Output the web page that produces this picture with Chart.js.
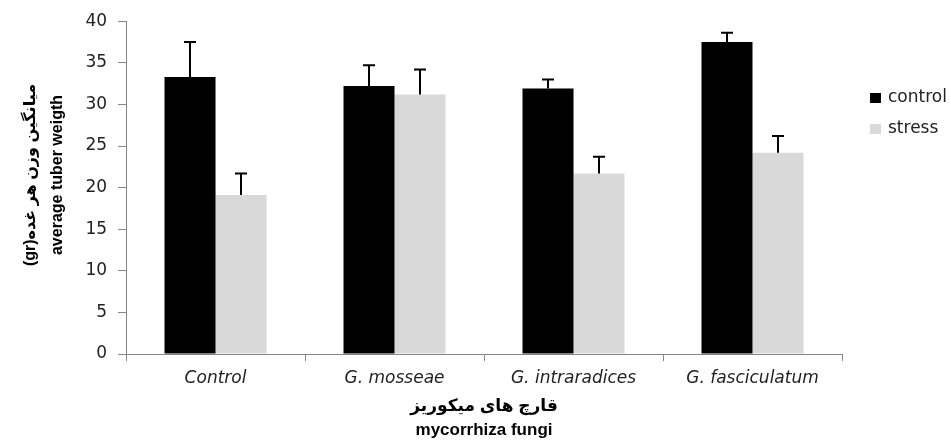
<!DOCTYPE html>
<html>
<head>
<meta charset="utf-8">
<script src="https://cdn.jsdelivr.net/npm/chart.js@4.4.1/dist/chart.umd.min.js"></script>
<style>
  html, body { margin: 0; padding: 0; background: #fff; }
  #wrap { width: 951px; height: 440px; position: relative; }
</style>
</head>
<body>
<div id="wrap"><canvas id="c"></canvas></div>
<script>
const categories = ['Control', 'G. mosseae', 'G. intraradices', 'G. fasciculatum'];
const controlValues = [33.3, 32.2, 31.9, 37.5];
const stressValues = [19.1, 31.2, 21.7, 24.2];
const controlErrors = [4.2, 2.5, 1.1, 1.1];
const stressErrors = [2.6, 3.0, 2.0, 2.0];
const seriesLabels = ['control', 'stress'];
const yTitleLines = ['(gr)میانگین وزن هر غده', 'average tuber weigth'];
const xTitleLines = ['قارچ های میکوریز', 'mycorrhiza fungi'];
const yMin = 0, yMax = 40, yStep = 5;

const errorData = [controlErrors, stressErrors];

const errorBarPlugin = {
  id: 'errorBars',
  afterDatasetsDraw(chart) {
    const ctx = chart.ctx;
    const yScale = chart.scales.y;
    ctx.save();
    ctx.strokeStyle = '#000';
    ctx.lineWidth = 2;
    chart.data.datasets.forEach((ds, di) => {
      const meta = chart.getDatasetMeta(di);
      meta.data.forEach((bar, i) => {
        const v = ds.data[i];
        const e = errorData[di][i];
        const yTop = yScale.getPixelForValue(v + e);
        const yBase = yScale.getPixelForValue(v);
        const x = Math.round(bar.x);
        ctx.beginPath();
        ctx.moveTo(x, yBase);
        ctx.lineTo(x, yTop);
        ctx.moveTo(x - 6, yTop);
        ctx.lineTo(x + 6, yTop);
        ctx.stroke();
      });
    });
    ctx.restore();
  }
};

const legendPlugin = {
  id: 'customLegend',
  afterDraw(chart) {
    const ctx = chart.ctx;
    ctx.save();
    ctx.font = '17px "DejaVu Sans"';
    ctx.textBaseline = 'middle';
    ctx.textAlign = 'left';
    chart.data.datasets.forEach((ds, di) => {
      const cy = 98 + di * 31;
      ctx.fillStyle = ds.backgroundColor;
      ctx.fillRect(870, cy - 5, 11, 10);
      ctx.fillStyle = '#222';
      ctx.fillText(ds.label, 888, cy);
    });
    ctx.restore();
  }
};

const yTitlePlugin = {
  id: 'yTitle',
  afterDraw(chart) {
    const ctx = chart.ctx;
    ctx.save();
    ctx.translate(31, 175);
    ctx.rotate(-Math.PI / 2);
    ctx.fillStyle = '#000';
    ctx.textAlign = 'center';
    ctx.textBaseline = 'middle';
    ctx.font = 'bold 16px "Liberation Sans", "DejaVu Sans"';
    yTitleLines.forEach((line, i) => {
      ctx.fillText(line, 0, i * 27);
    });
    ctx.restore();
  }
};

new Chart(document.getElementById('c'), {
  type: 'bar',
  data: {
    labels: categories,
    datasets: [
      { label: seriesLabels[0], data: controlValues, backgroundColor: '#000000', borderWidth: 0 },
      { label: seriesLabels[1], data: stressValues, backgroundColor: '#d9d9d9', borderWidth: 0 }
    ]
  },
  options: {
    responsive: true,
    maintainAspectRatio: false,
    animation: false,
    events: [],
    datasets: { bar: { categoryPercentage: 0.57, barPercentage: 1.0 } },
    layout: { padding: { left: 74.4, right: 109, top: 18, bottom: 0 } },
    plugins: { legend: { display: false }, tooltip: { enabled: false } },
    scales: {
      x: {
        offset: true,
        grid: { display: true, drawOnChartArea: false, drawTicks: true, tickLength: 7, offset: true, color: '#868686' },
        border: { display: true, color: '#868686', width: 1 },
        ticks: { color: '#222', padding: 7, font: { family: '"DejaVu Sans"', size: 17, style: 'italic' }, maxRotation: 0 },
        title: {
          display: true,
          text: xTitleLines,
          color: '#000',
          font: { family: '"Liberation Sans", "DejaVu Sans"', size: 17, weight: 'bold', lineHeight: 1.41 },
          padding: { top: -1.4, bottom: -2 }
        }
      },
      y: {
        min: yMin, max: yMax,
        grid: { display: true, drawOnChartArea: false, drawTicks: true, tickLength: 8, color: '#868686' },
        border: { display: true, color: '#868686', width: 1 },
        ticks: { stepSize: yStep, color: '#222', padding: 11, font: { family: '"DejaVu Sans"', size: 17 } },
        title: { display: false }
      }
    }
  },
  plugins: [errorBarPlugin, legendPlugin, yTitlePlugin]
});
</script>
</body>
</html>
